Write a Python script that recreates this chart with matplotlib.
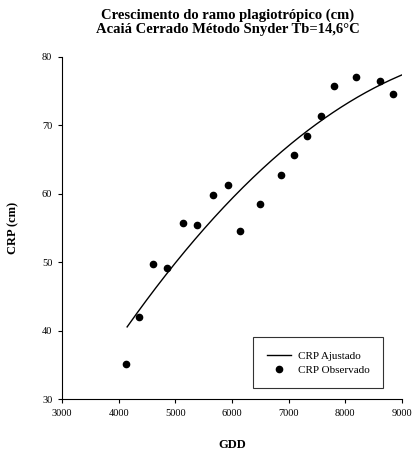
import numpy as np
import matplotlib
matplotlib.use("Agg")
import matplotlib.pyplot as plt

# observed plagiotropic branch growth vs. accumulated degree-days
gdd = [4135, 4364, 4612, 4859, 5141, 5382, 5665, 5929, 6141, 6494,
       6859, 7088, 7323, 7565, 7806, 8188, 8606, 8846]
crp = [35.1, 42.0, 49.7, 49.1, 55.7, 55.5, 59.8, 61.3, 54.5, 58.5,
       62.7, 65.7, 68.5, 71.3, 75.7, 77.1, 76.5, 74.6]

x_ticks = [3000, 4000, 5000, 6000, 7000, 8000, 9000]
y_ticks = [30, 40, 50, 60, 70, 80]

plt.rcParams["font.family"] = ["Liberation Serif", "DejaVu Serif"]

# quadratic fit over the observed points
coef = np.polyfit(gdd, crp, 2)
xf = np.linspace(min(gdd) + 15, 9000, 200)
yf = np.polyval(coef, xf)

fig = plt.figure(figsize=(4.16, 4.55), dpi=100)
ax = fig.add_axes([0.149, 0.123, 0.817, 0.752])

ax.plot(xf, yf, color="black", lw=1.0, label="CRP Ajustado")
ax.plot(gdd, crp, "o", color="black", ms=4.5, label="CRP Observado")

ax.set_xlim(3000, 9000)
ax.set_ylim(30, 80)
ax.set_xticks(x_ticks)
ax.set_yticks(y_ticks)
ax.tick_params(labelsize=7.5, length=3, width=0.8, direction="out", pad=4)
for s in ["top", "right"]:
    ax.spines[s].set_visible(False)
for s in ["left", "bottom"]:
    ax.spines[s].set_linewidth(0.8)

ax.set_xlabel("GDD", fontsize=9, fontweight="bold", labelpad=15)
ax.set_ylabel("CRP (cm)", fontsize=9, fontweight="bold", labelpad=16)

fig.text(0.547, 0.982, "Crescimento do ramo plagiotrópico (cm)\nAcaiá Cerrado Método Snyder Tb=14,6°C",
         ha="center", va="top", fontsize=10.5, fontweight="bold", linespacing=1.1)

leg = ax.legend(loc="lower right", bbox_to_anchor=(0.944, 0.032), borderaxespad=0,
                fontsize=8, frameon=True, fancybox=False, edgecolor="black",
                borderpad=1.2, handlelength=2.2, handletextpad=0.6, labelspacing=0.4)
leg.get_frame().set_linewidth(0.8)

fig.savefig("out.png", dpi=100)
